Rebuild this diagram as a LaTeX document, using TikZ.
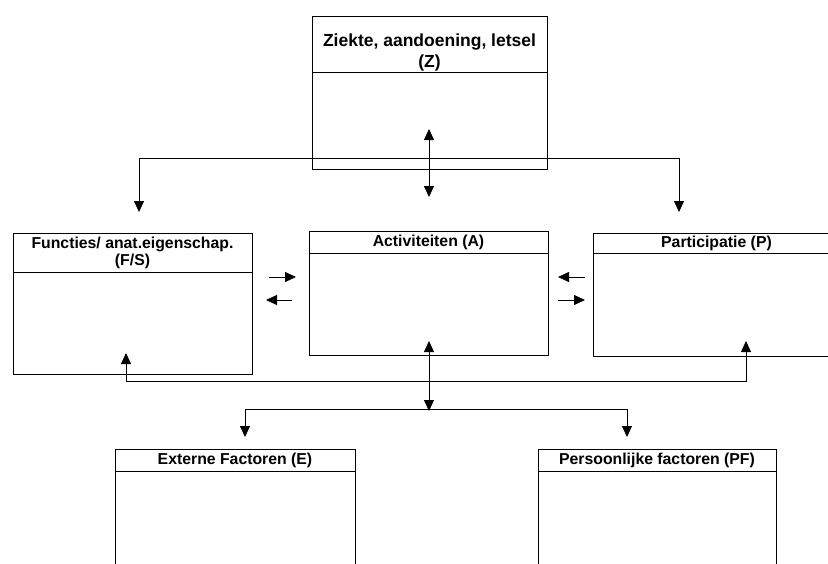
\documentclass[tikz,border=0pt]{standalone}
\usepackage{fontspec}
\setmainfont{Liberation Sans}
\usetikzlibrary{positioning,arrows.meta}

\begin{document}
\begin{tikzpicture}[x=1pt, y=-1pt, line width=0.8pt,
  >={Triangle[width=10pt,length=11pt]},
  head/.style={draw, anchor=north west, minimum height=22pt, inner sep=0pt, outer sep=0pt,
    align=center, font=\fontsize{15.8}{17}\selectfont\bfseries},
  body/.style={draw, inner sep=0pt, outer sep=0pt}]
\useasboundingbox (0,0) rectangle (828,563);

% boxes
\node [head, minimum width=235pt, minimum height=56pt, font=\fontsize{17.5}{21}\selectfont\bfseries]
  (zHead) at (312,16) {\rule{0pt}{28.7pt}Ziekte, aandoening, letsel\\(Z)};
\node [body, minimum width=235pt, minimum height=97pt, below=0pt of zHead] (zBody) {};

\node [head, minimum width=239pt, minimum height=39pt] (fsHead) at (13,233) {Functies/ anat.eigenschap.\\(F/S)};
\node [body, minimum width=239pt, minimum height=102pt, below=0pt of fsHead] (fsBody) {};

\node [head, minimum width=239pt] (aHead) at (309,231) {Activiteiten (A)};
\node [body, minimum width=239pt, minimum height=102pt, below=0pt of aHead] (aBody) {};

\node [head, minimum width=247pt, minimum height=20pt] (pHead) at (593,233) {Participatie (P)};
\node [body, minimum width=247pt, minimum height=103pt, below=0pt of pHead] (pBody) {};

\node [head, minimum width=240pt] (eHead) at (115,449) {Externe Factoren (E)};
\node [body, minimum width=240pt, minimum height=120pt, below=0pt of eHead] (eBody) {};

\node [head, minimum width=238pt] (pfHead) at (538,449) {Persoonlijke factoren (PF)};
\node [body, minimum width=238pt, minimum height=120pt, below=0pt of pfHead] (pfBody) {};

% connectors top
\coordinate (zSplit) at (429,158);
\coordinate (fsTop) at (139,212);
\coordinate (pTop) at (679,212);
\coordinate (zUp) at (429,129);
\coordinate (zDown) at (429,197);
\draw [->] (zSplit) -| (fsTop);
\draw [->] (zSplit) -| (pTop);
\draw [<->] (zUp) -- (zDown);

% connectors middle
\coordinate (fsOut) at (269,277);
\coordinate (aIn) at (296,277);
\coordinate (aOut) at (292,300);
\coordinate (fsIn) at (266,300);
\draw [->] (fsOut) -- (aIn);
\draw [->] (aOut) -- (fsIn);
\coordinate (pOut) at (585,277);
\coordinate (aInR) at (558,277);
\coordinate (aOutR) at (558,300);
\coordinate (pIn) at (585,300);
\draw [->] (pOut) -- (aInR);
\draw [->] (aOutR) -- (pIn);

% connectors bottom
\coordinate (fsUp) at (126,353);
\coordinate (fbLeft) at (126,381);
\coordinate (fbRight) at (746,381);
\coordinate (pUp) at (746,341);
\draw [<->] (fsUp) -- (fbLeft) -- (fbRight) -- (pUp);
\coordinate (aUp) at (429,341);
\coordinate (aDown) at (429,411);
\coordinate (aSplit) at (429,409);
\coordinate (eTop) at (245,437);
\coordinate (pfTop) at (627,437);
\draw [<->] (aUp) -- (aDown);
\draw [->] (aSplit) -| (eTop);
\draw [->] (aSplit) -| (pfTop);
\end{tikzpicture}
\end{document}
